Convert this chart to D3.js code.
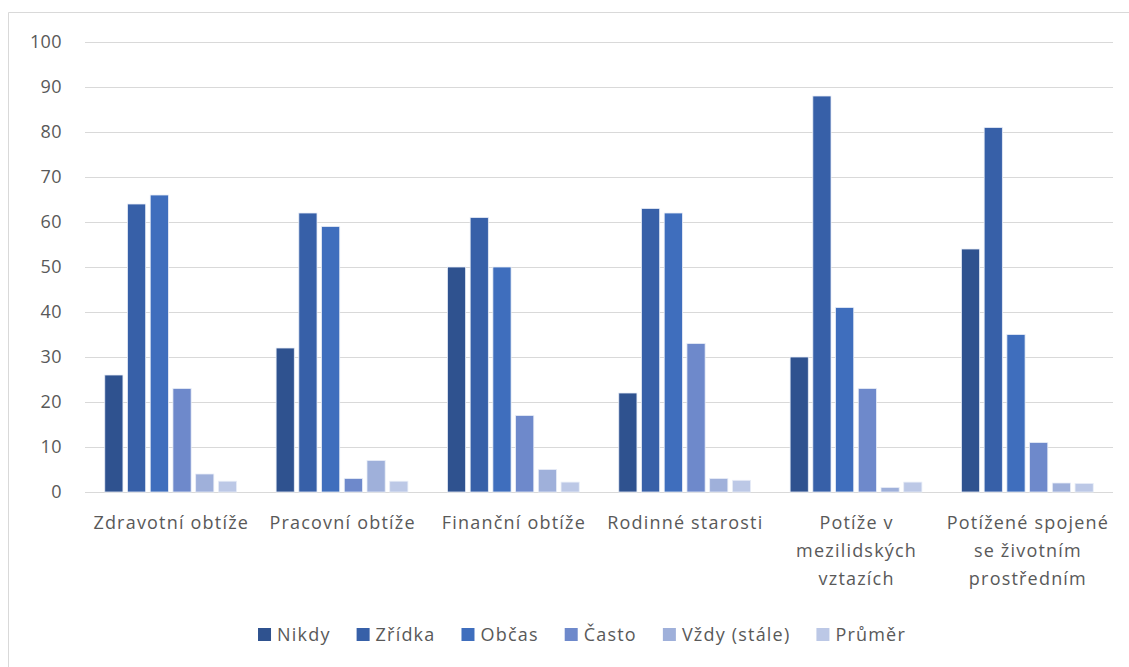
<!DOCTYPE html>
<html><head><meta charset="utf-8">
<script src="https://cdn.jsdelivr.net/npm/d3@7"></script>
<style>body{margin:0;background:#fff;} text{font-family:"Open Sans",Lato,sans-serif;}</style>
</head><body><svg id="c" width="1129" height="667"></svg>
<script>
const categories = ["Zdravotní obtíže","Pracovní obtíže","Finanční obtíže","Rodinné starosti","Potíže v\nmezilidských\nvztazích","Potížené spojené\nse životním\nprostředním"];
const seriesNames = ["Nikdy","Zřídka","Občas","Často","Vždy (stále)","Průměr"];
const nikdy  = [26,32,50,22,30,54];
const zridka = [64,62,61,63,88,81];
const obcas  = [66,59,50,62,41,35];
const casto  = [23,3,17,33,23,11];
const vzdy   = [4,7,5,3,1,2];
const prumer = [2.4,2.4,2.2,2.6,2.2,1.9];
const yTicks = [0,10,20,30,40,50,60,70,80,90,100];
const colors = ["#2F528F","#3760A8","#3F6EBD","#6E89CB","#9FB0DA","#BCC8E6"];

const seriesVals = [nikdy,zridka,obcas,casto,vzdy,prumer];
const svg = d3.select("#c");
const L=85, R=1113, T=42, B=492;
const FONT = 18, LS = 1.2;

// outer border
svg.append("path").attr("d","M8.5,667 V12.5 H1129").attr("fill","none").attr("stroke","#d9d9d9").attr("stroke-width",1);

const y = d3.scaleLinear().domain([0,100]).range([B,T]);
const x0 = d3.scaleBand().domain(categories).range([L,R]).padding(0);
const x1 = d3.scaleBand().domain(seriesNames).range([17.5, x0.bandwidth()-17.5]).paddingInner(0.2).paddingOuter(0.1);

// gridlines
svg.append("g").selectAll("line").data(yTicks).join("line")
  .attr("x1",L).attr("x2",R).attr("y1",d=>Math.round(y(d))+0.5).attr("y2",d=>Math.round(y(d))+0.5)
  .attr("stroke","#d9d9d9").attr("stroke-width",1);

// y axis labels
const ya = svg.append("g").attr("transform",`translate(${L},0)`)
  .call(d3.axisLeft(y).tickValues(yTicks).tickSize(0).tickPadding(23));
ya.select(".domain").remove();
ya.selectAll("text").attr("font-size",FONT).attr("fill","#595959").attr("font-family","Open Sans").attr("letter-spacing",0.4);

// bars
const g = svg.append("g");
categories.forEach((c,ci)=>{
  seriesNames.forEach((s,si)=>{
    g.append("rect")
      .attr("x", x0(c)+x1(s)).attr("width", x1.bandwidth())
      .attr("y", y(seriesVals[si][ci])).attr("height", B - y(seriesVals[si][ci]))
      .attr("fill", colors[si]).attr("stroke","#e8edf7").attr("stroke-width",0.8);
  });
});

// x axis labels
const xl = svg.append("g");
categories.forEach(c=>{
  const lines = c.split("\n");
  const cx = x0(c)+x0.bandwidth()/2 + LS/2;
  const t = xl.append("text").attr("text-anchor","middle").attr("font-size",FONT).attr("fill","#595959")
    .attr("letter-spacing",LS).attr("x", cx).attr("y", 529);
  lines.forEach((ln,i)=>t.append("tspan").attr("x",cx).attr("dy", i===0?0:28).text(ln));
});

// legend
const lg = svg.append("g");
let items = [];
let total = 0;
const gap = 26, sq = 13, sqGap = 6;
seriesNames.forEach((s,i)=>{
  const t = lg.append("text").attr("font-size",FONT).attr("fill","#595959").attr("letter-spacing",LS).attr("y",641).text(s);
  const w = t.node().getComputedTextLength();
  items.push({t,w,i});
  total += sq + sqGap + w + (i<seriesNames.length-1?gap:0);
});
let cx = 582 - total/2;
items.forEach(it=>{
  lg.append("rect").attr("x",cx).attr("y",628).attr("width",sq).attr("height",sq).attr("fill",colors[it.i]);
  it.t.attr("x", cx+sq+sqGap);
  cx += sq+sqGap+it.w+gap;
});
</script></body></html>
